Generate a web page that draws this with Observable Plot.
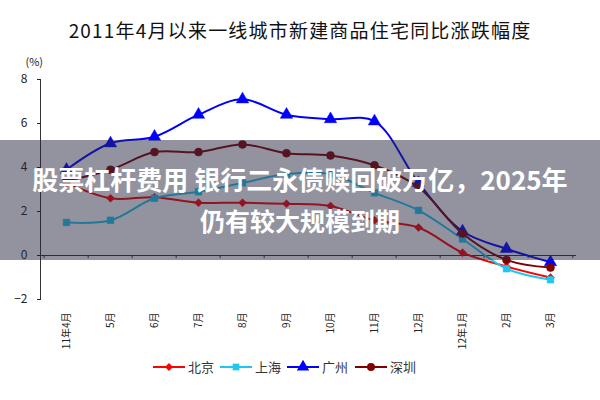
<!DOCTYPE html>
<html>
<head>
<meta charset="utf-8">
<script src="https://cdn.jsdelivr.net/npm/d3@7"></script>
<script src="https://cdn.jsdelivr.net/npm/@observablehq/plot@0.6"></script>
<style>
  html, body { margin: 0; padding: 0; background: #fff; }
  #wrap { position: relative; width: 600px; height: 400px; overflow: hidden; font-family: "Noto Sans CJK SC", "Noto Sans", sans-serif; }
  #title { position: absolute; left: 0; top: 18px; width: 600px; text-align: center; font-size: 19px; line-height: 24px; color: #111; letter-spacing: 1.2px; }
  #chart { position: absolute; left: 0; top: 50px; }
  #legend { position: absolute; left: 0; top: 352px; }
  #banner { position: absolute; left: 0; top: 140px; width: 600px; height: 120px; background: rgba(40,40,65,0.5); color: #fff; font-weight: 700; text-align: center; }
  .bl { position: absolute; left: 0; width: 600px; line-height: 30px; }
</style>
</head>
<body>
<div id="wrap">
  <div id="title">2011年4月以来一线城市新建商品住宅同比涨跌幅度</div>
  <div id="chart"></div>
  <div id="legend"></div>
  <div id="banner">
    <div class="bl" style="top:24px;font-size:26px">股票杠杆费用 银行二永债赎回破万亿，2025年</div>
    <div class="bl" style="top:65px;font-size:25px">仍有较大规模到期</div>
  </div>
</div>
<script>
const categories = ["11年4月","5月","6月","7月","8月","9月","10月","11月","12月","12年1月","2月","3月"];
const cities = ["北京","上海","广州","深圳"];
const beijing  = [3.3, 2.6, 2.65, 2.4, 2.4, 2.35, 2.25, 1.6, 1.27, 0.13, -0.5, -1.0];
const shanghai = [1.5, 1.6, 2.6, 2.9, 3.3, 3.7, 3.7, 2.85, 2.05, 0.75, -0.6, -1.1];
const guangzhou= [3.9, 5.1, 5.4, 6.4, 7.1, 6.4, 6.2, 6.1, 3.3, 1.1, 0.3, -0.3];
const shenzhen = [3.4, 3.9, 4.7, 4.7, 5.05, 4.65, 4.55, 4.1, 3.1, 1.0, -0.2, -0.55];
const yTicks = [-2, 0, 2, 4, 6, 8];
const colors = ["#ff0000", "#1ec8f0", "#0000ff", "#800000"];
const symbols = ["diamond2", "square", "triangle", "circle"];
const radii = [3.6, 3.8, 4.6, 4.0];

const seriesValues = [beijing, shanghai, guangzhou, shenzhen];
const table = [];
cities.forEach((c, ci) => categories.forEach((cat, i) => table.push({city: c, cat, value: seriesValues[ci][i]})));

const W = 600, H = 305, mL = 40, mR = 24, mT = 29, mB = 56;
const bw = (W - mL - mR) / categories.length;

const marks = [
  Plot.ruleY([0], {stroke: "#333", strokeWidth: 1}),
  Plot.frame({anchor: "left", stroke: "#333"}),
  Plot.ruleX(categories, {x: d => d, dx: -bw / 2, y1: 0, y2: -0.14, stroke: "#333"}),
  Plot.ruleX([categories[categories.length - 1]], {x: d => d, dx: bw / 2, y1: 0, y2: -0.14, stroke: "#333"}),
  Plot.axisY({ticks: yTicks, tickSize: 3, tickPadding: 10, fontSize: 12, label: null, color: "#222"}),
  Plot.axisX({tickRotate: -90, tickSize: 0, tickPadding: 13, fontSize: 10, label: null, color: "#222"}),
  Plot.text(["(%)"], {frameAnchor: "top-left", dx: -15, dy: -21, fontSize: 11, fill: "#222"})
];
cities.forEach((c, ci) => {
  const rows = table.filter(d => d.city === c);
  marks.push(Plot.line(rows, {x: "cat", y: "value", stroke: colors[ci], strokeWidth: 2, curve: "catmull-rom"}));
  marks.push(Plot.dot(rows, {x: "cat", y: "value", fill: colors[ci], stroke: colors[ci], strokeWidth: 0.5, symbol: symbols[ci], r: radii[ci]}));
});

const chart = Plot.plot({
  width: W, height: H,
  marginLeft: mL, marginRight: mR, marginTop: mT, marginBottom: mB,
  style: {fontFamily: "'Noto Sans CJK SC', 'Noto Sans', sans-serif", background: "transparent"},
  x: {type: "band", domain: categories, padding: 0, axis: null},
  y: {domain: [-2, 8], axis: null},
  marks
});
document.getElementById("chart").appendChild(chart);

// legend
const lg = d3.select("#legend").append("svg").attr("width", 600).attr("height", 30);
const lx = [153, 220, 287, 355];
const symMap = {diamond2: d3.symbolDiamond2, square: d3.symbolSquare, triangle: d3.symbolTriangle, circle: d3.symbolCircle};
cities.forEach((c, ci) => {
  const g = lg.append("g").attr("transform", `translate(${lx[ci]},15)`);
  g.append("line").attr("x1", 0).attr("x2", 32).attr("y1", 0).attr("y2", 0).attr("stroke", colors[ci]).attr("stroke-width", 2);
  g.append("path").attr("transform", "translate(16,0)")
    .attr("d", d3.symbol(symMap[symbols[ci]], Math.PI * radii[ci] * radii[ci])())
    .attr("fill", colors[ci]);
  g.append("text").attr("x", 35).attr("y", 0).attr("dy", "0.36em").attr("font-size", 13)
    .attr("font-family", "'Noto Sans CJK SC', sans-serif").attr("fill", "#333").text(c);
});
</script>
</body>
</html>
